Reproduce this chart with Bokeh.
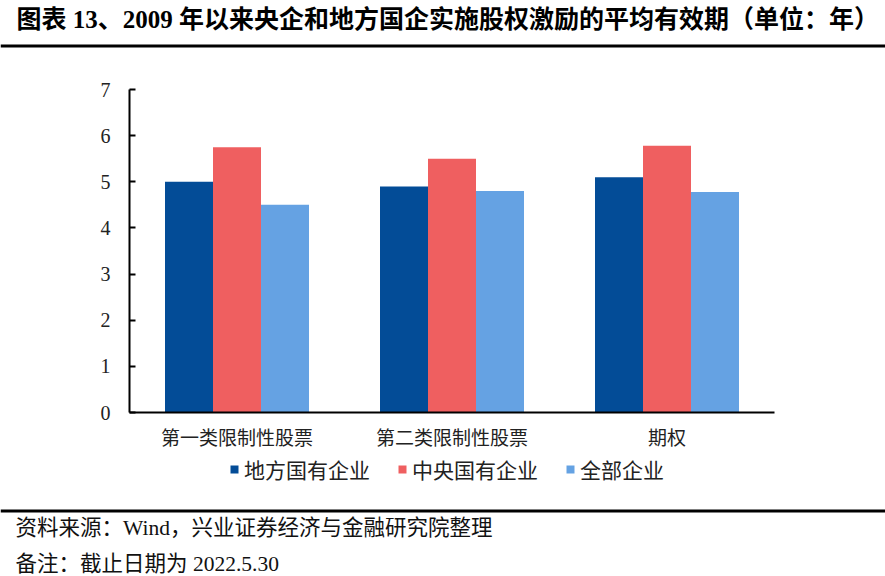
import numpy as np
from bokeh.plotting import figure
from bokeh.models import Range1d, Label, Legend, LegendItem, BoxAnnotation, FixedTicker
from bokeh.embed import file_html
from bokeh.resources import INLINE

categories = ["第一类限制性股票", "第二类限制性股票", "期权"]
series_names = ["地方国有企业", "中央国有企业", "全部企业"]
local_soe = [5.0, 4.9, 5.1]
central_soe = [5.75, 5.5, 5.78]
all_firms = [4.5, 4.8, 4.78]
y_ticks = [0, 1, 2, 3, 4, 5, 6, 7]

title_text = "图表 13、2009 年以来央企和地方国企实施股权激励的平均有效期（单位：年）"
source_text = "资料来源：Wind，兴业证券经济与金融研究院整理"
note_text = "备注：截止日期为 2022.5.30"

colors = ["#034C97", "#EF5F60", "#65A2E3"]
SERIF = "'Liberation Serif', 'Noto Sans CJK SC'"

# ---- layout constants (canvas pixels) ----
W, H = 885, 576
AX_LEFT, AX_RIGHT = 129, 774      # category span
AX_TOP, AX_BOTTOM = 89, 412       # value span (0..7)
ymax = y_ticks[-1]
ppu_y = (AX_BOTTOM - AX_TOP) / ymax
ppu_x = (AX_RIGHT - AX_LEFT) / len(categories)

x_range = Range1d(-AX_LEFT / ppu_x, (W - AX_LEFT) / ppu_x)
y_range = Range1d(-(H - AX_BOTTOM) / ppu_y, ymax + AX_TOP / ppu_y)

p = figure(width=W, height=H, x_range=x_range, y_range=y_range,
           output_backend="svg", toolbar_location=None, min_border=0)
p.outline_line_color = None
p.grid.visible = False

centers = np.arange(len(categories)) + 0.5
bw = 48 / ppu_x
r1 = p.vbar(x=centers - bw, top=local_soe, width=bw, fill_color=colors[0], line_color=None)
r2 = p.vbar(x=centers, top=central_soe, width=bw, fill_color=colors[1], line_color=None)
r3 = p.vbar(x=centers + bw, top=all_firms, width=bw, fill_color=colors[2], line_color=None)

# y axis
yax = p.yaxis[0]
yax.fixed_location = 0
yax.bounds = (0, ymax)
yax.ticker = FixedTicker(ticks=y_ticks)
yax.major_tick_in = 6
yax.major_tick_out = 0
yax.minor_tick_line_color = None
yax.axis_line_color = "black"
yax.axis_line_width = 2
yax.major_tick_line_width = 2
yax.major_label_text_font = SERIF
yax.major_label_text_font_size = "20px"
yax.major_label_text_color = "#222222"
yax.major_label_standoff = 19

# x axis
xax = p.xaxis[0]
xax.fixed_location = 0
xax.bounds = (0, len(categories))
xax.ticker = FixedTicker(ticks=list(centers))
xax.major_label_overrides = {float(c): name for c, name in zip(centers, categories)}
xax.axis_line_color = "black"
xax.axis_line_width = 2
xax.major_tick_line_color = None
xax.minor_tick_line_color = None
xax.major_label_text_font = SERIF
xax.major_label_text_font_size = "19px"
xax.major_label_text_color = "#222222"
xax.major_label_standoff = 9

legend = Legend(items=[LegendItem(label=series_names[0], renderers=[r1]),
                       LegendItem(label=series_names[1], renderers=[r2]),
                       LegendItem(label=series_names[2], renderers=[r3])],
                orientation="horizontal", location=(229, 92))
legend.glyph_width = 10
legend.glyph_height = 10
legend.label_standoff = 5
legend.spacing = 27
legend.padding = 0
legend.margin = 0
legend.border_line_color = None
legend.background_fill_alpha = 0
legend.label_text_font = SERIF
legend.label_text_font_size = "21px"
legend.label_text_color = "#222222"
p.add_layout(legend, "center")

# title, rules, notes (screen units, origin bottom-left of canvas)
p.add_layout(Label(x=16, y=H - 19, x_units="screen", y_units="screen", text=title_text,
                   text_font=SERIF, text_font_style="bold", text_font_size="25px",
                   text_baseline="middle", text_color="black"))
p.add_layout(BoxAnnotation(left=0, right=W, top=H - 44, bottom=H - 47, left_units="screen", right_units="screen",
                           top_units="screen", bottom_units="screen", fill_color="black", fill_alpha=1, line_color=None))
p.add_layout(BoxAnnotation(left=0, right=W, top=H - 509, bottom=H - 512, left_units="screen", right_units="screen",
                           top_units="screen", bottom_units="screen", fill_color="black", fill_alpha=1, line_color=None))
p.add_layout(Label(x=15, y=H - 527, x_units="screen", y_units="screen", text=source_text,
                   text_font=SERIF, text_font_size="21.5px", text_baseline="middle", text_color="#111111"))
p.add_layout(Label(x=15, y=H - 563, x_units="screen", y_units="screen", text=note_text,
                   text_font=SERIF, text_font_size="21.5px", text_baseline="middle", text_color="#111111"))

open("out.html", "w").write(file_html(p, INLINE))
